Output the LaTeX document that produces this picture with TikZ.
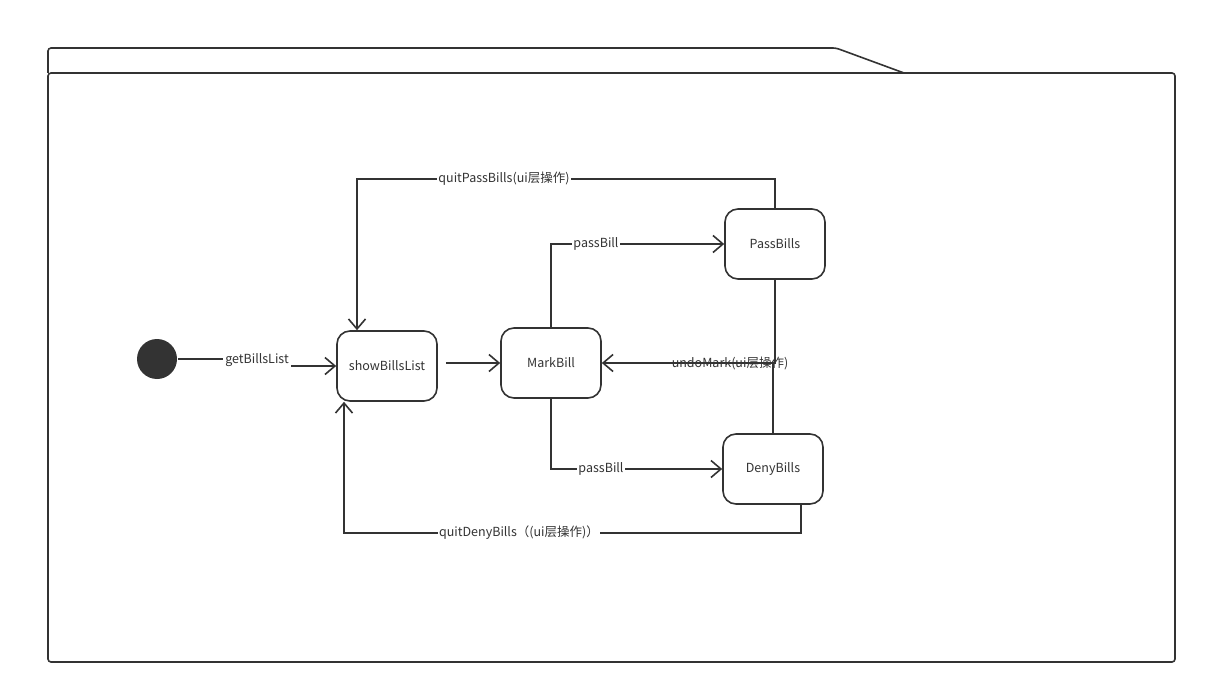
\documentclass[tikz,border=0pt]{standalone}
\usepackage{fontspec}
\setmainfont{Noto Sans CJK SC}
\usetikzlibrary{arrows.meta}
\definecolor{ink}{HTML}{333333}
\begin{document}
\begin{tikzpicture}[x=1pt,y=-1pt,
  line width=1.6pt, draw=ink,
  txt/.style={font=\fontsize{12.5pt}{14pt}\selectfont, text=ink},
  state/.style={txt, draw=ink, rounded corners=13pt, minimum width=100pt, minimum height=70pt, inner sep=0pt},
  arr/.style={draw=ink, -{Straight Barb[length=10pt,width=17pt,line width=1.6pt]}},
  lbl/.style={txt, fill=white, inner xsep=1pt, inner ysep=1pt},
  plainlbl/.style={txt, inner sep=0pt}]
\useasboundingbox (0,0) rectangle (1207,695);

% package frame with tab
\draw[ink, rounded corners=3pt] (48,73) -- (48,48) -- (836,48) -- (904,73);
\draw[ink, rounded corners=3pt] (48,73) rectangle (1175,662);

% states
\node[circle, fill=ink, draw=none, minimum size=40pt, inner sep=0pt] (init) at (157,359) {};
\node[state] (show) at (387,366) {showBillsList};
\node[state] (mark) at (551,363) {MarkBill};
\node[state] (pass) at (775,244) {PassBills};
\node[state] (deny) at (773,469) {DenyBills};

% transitions
\draw[arr] (init.east) -- (257,359) |- (show.west);
\node[lbl, minimum height=24pt, minimum width=68pt] (lgbl) at (257,361) {\raisebox{5pt}{getBillsList}};

\draw[arr, shorten <=8pt] (show.east |- mark.west) -- (mark.west);

\draw[arr] (mark.north) |- (pass.west);
\node[lbl] (lpass1) at (596,244) {passBill};

\draw[arr] (mark.south) |- (deny.west);
\node[lbl] (lpass2) at (601,469) {passBill};

\draw[arr] (pass.north) -- (pass.north |- 0,179) -| ([xshift=-30pt]show.north);
\node[lbl] (lqp) at (504,179) {quitPassBills(ui层操作)};

\draw[arr] ([xshift=28pt]deny.south) -- ++(0,28) -| ([xshift=-43pt]show.south);
\node[lbl] (lqd) at (519,533) {quitDenyBills（(ui层操作)）};

\draw[ink] (deny.north) -- (deny.north |- mark.east);
\draw[arr] (pass.south) |- (mark.east);
\node[plainlbl] (lundo) at (730,363) {undoMark(ui层操作)};
\end{tikzpicture}
\end{document}
